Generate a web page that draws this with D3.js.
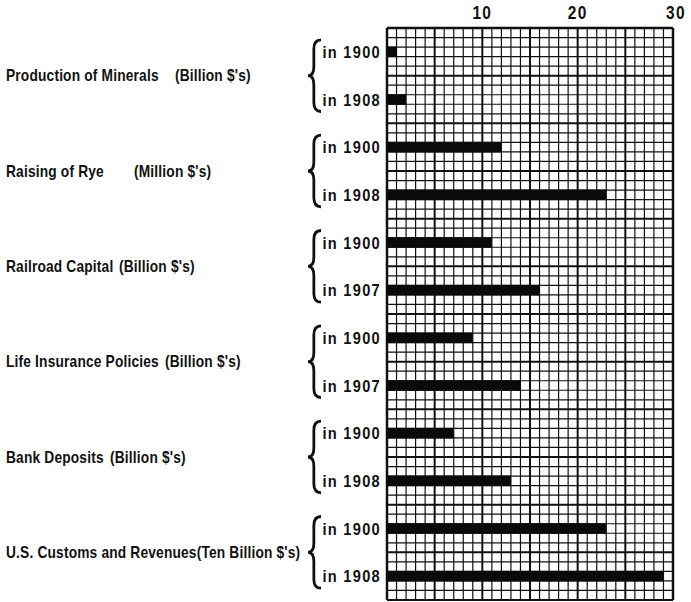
<!DOCTYPE html>
<html>
<head>
<meta charset="utf-8">
<script src="https://cdn.jsdelivr.net/npm/d3@7"></script>
<style>
  body { margin: 0; background: #fff; }
  text { font-family: "Liberation Sans", Arial, sans-serif; font-weight: bold; fill: #111; }
</style>
</head>
<body>
<svg width="691" height="602"></svg>
<script>
// chart values
var categories = ['Production of Minerals', 'Raising of Rye', 'Railroad Capital', 'Life Insurance Policies', 'Bank Deposits', 'U.S. Customs and Revenues'];
var units = ["(Billion $'s)", "(Million $'s)", "(Billion $'s)", "(Billion $'s)", "(Billion $'s)", "(Ten Billion $'s)"];
var firstYears = ['1900', '1900', '1900', '1900', '1900', '1900'];
var secondYears = ['1908', '1908', '1907', '1907', '1908', '1908'];
var firstValues = [1, 12, 11, 9, 7, 23];
var secondValues = [2, 23, 16, 14, 13, 29];
var tickValues = [10, 20, 30];

// where the unit text starts (layout only)
var unitX = [175, 134, 119, 165, 110, null];
var squeeze = 0.86; // the print face is condensed

function main() {
	var svg = d3.select('svg');

	var x = d3.scaleLinear().domain([0, 30]).range([387, 673]);
	var y = d3.scaleLinear().domain([0, 60]).range([28, 600]);

	// flatten into one row per bar
	var bars = [];
	categories.forEach(function(c, i) {
		bars.push({group: i, slot: i * 2, year: firstYears[i], value: firstValues[i]});
		bars.push({group: i, slot: i * 2 + 1, year: secondYears[i], value: secondValues[i]});
	});

	var grid = svg.append('g');

	grid.selectAll('.vx').data(d3.range(0, 31))
		.enter().append('line')
		.attr('x1', function(d) { return x(d); })
		.attr('x2', function(d) { return x(d); })
		.attr('y1', y(0)).attr('y2', y(60))
		.attr('stroke', '#111')
		.attr('stroke-width', function(d) { return d % 30 == 0 ? 2.5 : d % 5 == 0 ? 2 : 1.2; });

	grid.selectAll('.hy').data(d3.range(0, 61))
		.enter().append('line')
		.attr('y1', function(d) { return y(d); })
		.attr('y2', function(d) { return y(d); })
		.attr('x1', x(0)).attr('x2', x(30))
		.attr('stroke', '#111')
		.attr('stroke-width', function(d) { return d == 0 ? 2.5 : d % 5 == 0 ? 2 : 1.2; });

	// bars sit in the middle row of each 5-row band
	svg.selectAll('.bar').data(bars)
		.enter().append('rect')
		.attr('class', 'bar')
		.attr('x', x(0))
		.attr('y', function(d) { return y(d.slot * 5 + 2) - 0.5; })
		.attr('width', function(d) { return x(d.value) - x(0); })
		.attr('height', function(d) { return y(d.slot * 5 + 3) - y(d.slot * 5 + 2) + 1; })
		.attr('fill', '#0a0a0a');

	// top tick labels
	svg.selectAll('.tick').data(tickValues)
		.enter().append('text')
		.attr('transform', function(d) {
			return 'translate(' + (x(d) + (d == 30 ? 3 : 0)) + ',19) scale(' + squeeze + ',1)';
		})
		.attr('text-anchor', 'middle')
		.style('font-size', '18px')
		.style('letter-spacing', '1.5px')
		.text(function(d) { return d; });

	// year labels
	svg.selectAll('.yr').data(bars)
		.enter().append('text')
		.attr('transform', function(d) {
			return 'translate(381,' + y(d.slot * 5 + 2.5) + ') scale(' + squeeze + ',1)';
		})
		.attr('dy', '0.36em')
		.attr('text-anchor', 'end')
		.style('font-size', '17px')
		.style('letter-spacing', '1.5px')
		.text(function(d) { return 'in ' + d.year; });

	// braces
	function brace(xr, y0, y1, w) {
		var mid = (y0 + y1) / 2, xm = xr - w * 0.55, xt = xr - w, q = 9;
		return 'M' + xr + ',' + y0 +
			'Q' + xm + ',' + y0 + ' ' + xm + ',' + (y0 + q) +
			'L' + xm + ',' + (mid - q) +
			'Q' + xm + ',' + mid + ' ' + xt + ',' + mid +
			'Q' + xm + ',' + mid + ' ' + xm + ',' + (mid + q) +
			'L' + xm + ',' + (y1 - q) +
			'Q' + xm + ',' + y1 + ' ' + xr + ',' + y1;
	}

	svg.selectAll('.brace').data(categories)
		.enter().append('path')
		.attr('d', function(d, i) {
			return brace(321, y(i * 10 + 2.5) - 12, y(i * 10 + 7.5) + 12, 13);
		})
		.attr('fill', 'none')
		.attr('stroke', '#111')
		.attr('stroke-width', 2.8);

	// group labels
	var lab = svg.selectAll('.lab').data(categories)
		.enter().append('text')
		.attr('transform', function(d, i) {
			return 'translate(6,' + y(i * 10 + 5) + ') scale(' + squeeze + ',1)';
		})
		.attr('dy', '0.36em')
		.style('font-size', '16px')
		.style('letter-spacing', '0.2px');

	lab.append('tspan').text(function(d) { return d; });
	lab.append('tspan')
		.attr('x', function(d, i) { return unitX[i] == null ? null : (unitX[i] - 6) / squeeze; })
		.text(function(d, i) { return units[i]; });
}
main();
</script>
</body>
</html>
